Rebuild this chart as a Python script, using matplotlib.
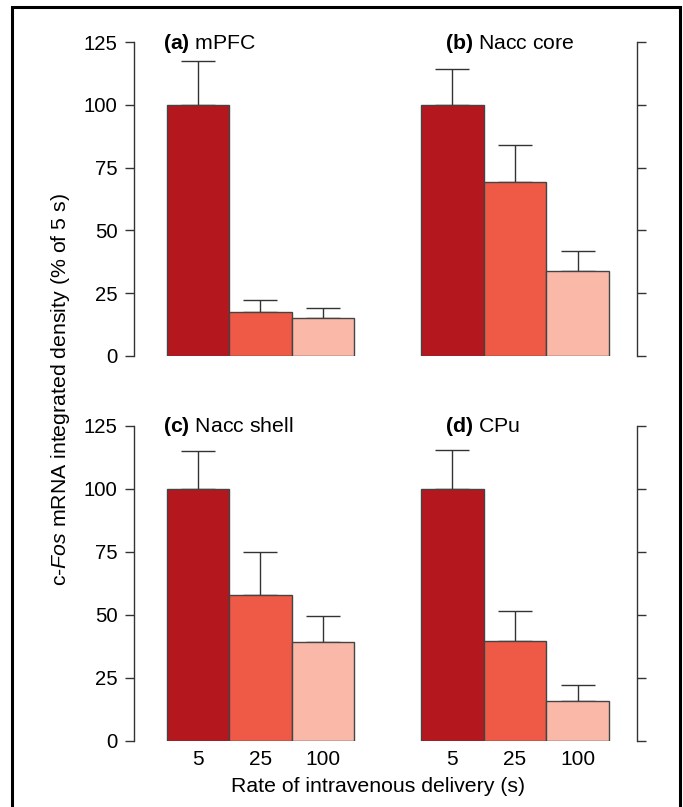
import matplotlib
matplotlib.use("Agg")
import matplotlib.pyplot as plt
from matplotlib.patches import Rectangle

plt.rcParams['font.family'] = ['Liberation Sans', 'DejaVu Sans']
plt.rcParams['mathtext.fontset'] = 'custom'
plt.rcParams['mathtext.rm'] = 'Liberation Sans'
plt.rcParams['mathtext.it'] = 'Liberation Sans:italic'
plt.rcParams['mathtext.bf'] = 'Liberation Sans:bold'

# datos
rates = ['5', '25', '100']
paneles = ['(a)', '(b)', '(c)', '(d)']
regiones = ['mPFC', 'Nacc core', 'Nacc shell', 'CPu']
medias_a = [100, 17.6, 15.3]
sem_a = [17.5, 4.7, 4.0]
medias_b = [100, 69.4, 33.9]
sem_b = [14.3, 14.7, 7.9]
medias_c = [100, 57.8, 39.2]
sem_c = [14.8, 17.0, 10.2]
medias_d = [100, 39.6, 15.8]
sem_d = [15.4, 11.7, 6.3]
yticks = [0, 25, 50, 75, 100, 125]

colores = ['#b5171e', '#ee5a46', '#f9b8a8']
borde = '#444444'

W, H = 683, 807
fig = plt.figure(figsize=(W / 100, H / 100), dpi=100)


def px_axes(x0, x1, y_top, y_bot):
    return fig.add_axes([x0 / W, 1 - y_bot / H, (x1 - x0) / W, (y_bot - y_top) / H])


ejes = [
    px_axes(134, 360, 42, 356),
    px_axes(400, 637, 42, 356),
    px_axes(134, 360, 425.7, 740.7),
    px_axes(400, 637, 425.7, 740.7),
]
datos = [(medias_a, sem_a), (medias_b, sem_b), (medias_c, sem_c), (medias_d, sem_d)]

for i, ax in enumerate(ejes):
    medias, sems = datos[i]
    x = list(range(len(medias)))
    ax.bar(x, medias, width=1.0, color=colores, edgecolor=borde, linewidth=1.0, zorder=3)
    ax.errorbar(x, medias, yerr=[[0] * len(sems), sems], fmt='none', ecolor='#333333',
                elinewidth=1.0, capsize=12.5, capthick=1.0, zorder=2)
    ax.set_ylim(0, 125)
    ax.set_yticks(yticks)
    izquierda = (i % 2 == 0)
    if izquierda:
        ax.set_xlim(-1.03, 2.6)
        tx = -0.56
    else:
        ax.set_xlim(-0.836, 2.95)
        tx = -0.12
    for s in ['top', 'bottom', 'left', 'right']:
        ax.spines[s].set_visible(False)
    lado = 'left' if izquierda else 'right'
    ax.spines[lado].set_visible(True)
    ax.spines[lado].set_color('#333333')
    ax.spines[lado].set_linewidth(1.0)
    ax.tick_params(axis='y', length=6.5, width=1.0, color='#333333', pad=5.5,
                   labelsize=14.6, left=izquierda, right=not izquierda,
                   labelleft=izquierda, labelright=False)
    if i >= 2:
        ax.set_xticks(x)
        ax.set_xticklabels(rates)
        ax.tick_params(axis='x', length=0, pad=6.5, labelsize=15)
    else:
        ax.set_xticks([])
    ax.text(tx, 122.4, r'$\mathbf{' + paneles[i] + '}$ ' + regiones[i],
            fontsize=15.3, ha='left', va='baseline', clip_on=False)

fig.text(61 / W, 1 - 390 / H, r'c-$\it{Fos}$ mRNA integrated density (% of 5 s)',
         rotation=90, ha='center', va='center', fontsize=15.3)
fig.text(378 / W, 1 - 787 / H, 'Rate of intravenous delivery (s)',
         ha='center', va='center', fontsize=15.3)

# marco exterior
fig.patches.append(Rectangle((12 / W, -0.02), (680 - 12) / W, 1 - 7 / H + 0.02,
                             transform=fig.transFigure, fill=False,
                             edgecolor='black', linewidth=2.2))

fig.savefig('out.png', dpi=100, facecolor='white')
